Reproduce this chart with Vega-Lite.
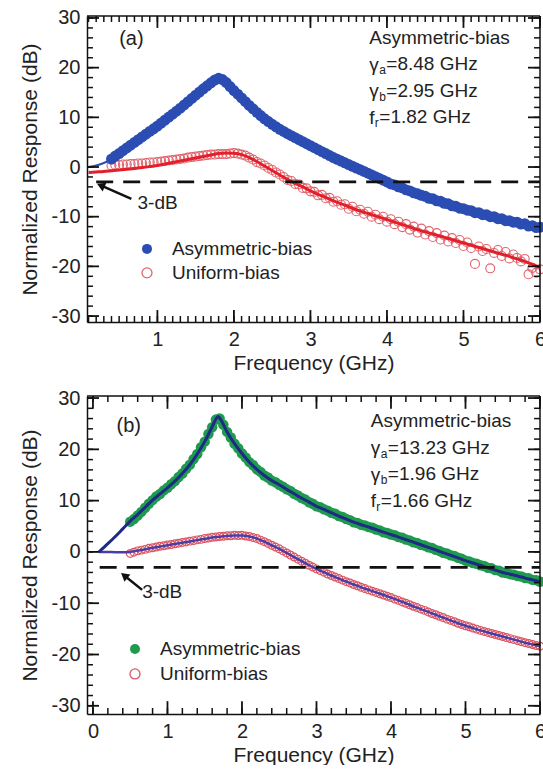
{
"$schema": "https://vega.github.io/schema/vega-lite/v6.json",
"padding": {"left": 19, "top": 7, "right": 0, "bottom": 0},
"spacing": 74,
"bounds": "flush",
"config": {
 "view": {"stroke": null},
 "font": "Liberation Sans",
 "axis": {"grid": false, "labelFontSize": 20, "titleFontSize": 21, "titleFontWeight": "normal", "labelColor": "#222", "titleColor": "#222"},
 "text": {"color": "#222"}
},
"datasets": {
"xa_minor": [
{"v":0.1},{"v":0.2},{"v":0.3},{"v":0.4},{"v":0.5},{"v":0.6},{"v":0.7},{"v":0.8},{"v":0.9},{"v":1.0},
{"v":1.1},{"v":1.2},{"v":1.3},{"v":1.4},{"v":1.5},{"v":1.6},{"v":1.7},{"v":1.8},{"v":1.9},{"v":2.0},
{"v":2.1},{"v":2.2},{"v":2.3},{"v":2.4},{"v":2.5},{"v":2.6},{"v":2.7},{"v":2.8},{"v":2.9},{"v":3.0},
{"v":3.1},{"v":3.2},{"v":3.3},{"v":3.4},{"v":3.5},{"v":3.6},{"v":3.7},{"v":3.8},{"v":3.9},{"v":4.0},
{"v":4.1},{"v":4.2},{"v":4.3},{"v":4.4},{"v":4.5},{"v":4.6},{"v":4.7},{"v":4.8},{"v":4.9},{"v":5.0},
{"v":5.1},{"v":5.2},{"v":5.3},{"v":5.4},{"v":5.5},{"v":5.6},{"v":5.7},{"v":5.8},{"v":5.9},{"v":6.0}
],
"xa_major": [{"v":1},{"v":2},{"v":3},{"v":4},{"v":5},{"v":6}],
"xb_minor": [
{"v":0.0},{"v":0.2},{"v":0.4},{"v":0.6},{"v":0.8},{"v":1.0},{"v":1.2},{"v":1.4},{"v":1.6},{"v":1.8},{"v":2.0},
{"v":2.2},{"v":2.4},{"v":2.6},{"v":2.8},{"v":3.0},{"v":3.2},{"v":3.4},{"v":3.6},{"v":3.8},{"v":4.0},
{"v":4.2},{"v":4.4},{"v":4.6},{"v":4.8},{"v":5.0},{"v":5.2},{"v":5.4},{"v":5.6},{"v":5.8},{"v":6.0}
],
"xb_major": [{"v":0},{"v":1},{"v":2},{"v":3},{"v":4},{"v":5},{"v":6}],
"y_minor": [
{"v":-30},{"v":-28},{"v":-26},{"v":-24},{"v":-22},{"v":-20},{"v":-18},{"v":-16},{"v":-14},{"v":-12},{"v":-10},
{"v":-8},{"v":-6},{"v":-4},{"v":-2},{"v":0},{"v":2},{"v":4},{"v":6},{"v":8},{"v":10},
{"v":12},{"v":14},{"v":16},{"v":18},{"v":20},{"v":22},{"v":24},{"v":26},{"v":28},{"v":30}
],
"y_major": [{"v":-30},{"v":-20},{"v":-10},{"v":0},{"v":10},{"v":20},{"v":30}],
"a": [
{"f":0.40,"A":1.6,"U":0.3},{"f":0.45,"A":2.2,"U":0.4},{"f":0.50,"A":2.7,"U":0.4},{"f":0.55,"A":3.3,"U":0.5},{"f":0.60,"A":3.85,"U":0.5},
{"f":0.65,"A":4.4,"U":0.6},{"f":0.70,"A":4.95,"U":0.6},{"f":0.75,"A":5.5,"U":0.7},{"f":0.80,"A":6.05,"U":0.7},{"f":0.85,"A":6.6,"U":0.8},
{"f":0.90,"A":7.15,"U":0.9},{"f":0.95,"A":7.7,"U":0.9},{"f":1.00,"A":8.25,"U":1.0},{"f":1.05,"A":8.85,"U":1.1},{"f":1.10,"A":9.45,"U":1.2},
{"f":1.15,"A":10.05,"U":1.3},{"f":1.20,"A":10.65,"U":1.4},{"f":1.25,"A":11.25,"U":1.5},{"f":1.30,"A":11.85,"U":1.6},{"f":1.35,"A":12.5,"U":1.7},
{"f":1.40,"A":13.15,"U":1.9},{"f":1.45,"A":13.8,"U":2.0},{"f":1.50,"A":14.45,"U":2.1},{"f":1.55,"A":15.1,"U":2.2},{"f":1.60,"A":15.75,"U":2.3},
{"f":1.65,"A":16.35,"U":2.4},{"f":1.70,"A":16.95,"U":2.5},{"f":1.75,"A":17.5,"U":2.5},{"f":1.80,"A":17.85,"U":2.6},{"f":1.85,"A":17.6,"U":2.6},
{"f":1.90,"A":17.0,"U":2.6},{"f":1.95,"A":16.2,"U":2.7},{"f":2.00,"A":15.4,"U":2.8},{"f":2.05,"A":14.65,"U":2.7},{"f":2.10,"A":13.9,"U":2.5},
{"f":2.15,"A":13.15,"U":2.3},{"f":2.20,"A":12.4,"U":1.9},{"f":2.25,"A":11.7,"U":1.5},{"f":2.30,"A":11.0,"U":1.0},{"f":2.35,"A":10.35,"U":0.7},
{"f":2.40,"A":9.7,"U":0.3},{"f":2.45,"A":9.15,"U":-0.2},{"f":2.50,"A":8.6,"U":-0.6},{"f":2.55,"A":8.1,"U":-1.1},{"f":2.60,"A":7.6,"U":-1.5},
{"f":2.65,"A":7.15,"U":-2.0},{"f":2.70,"A":6.7,"U":-2.6},{"f":2.75,"A":6.3,"U":-2.8},{"f":2.80,"A":5.9,"U":-3.4},{"f":2.85,"A":5.5,"U":-3.5},
{"f":2.90,"A":5.1,"U":-4.2},{"f":2.95,"A":4.7,"U":-4.3},{"f":3.00,"A":4.3,"U":-4.9},{"f":3.05,"A":3.9,"U":-5.0},{"f":3.10,"A":3.5,"U":-5.7},
{"f":3.15,"A":3.1,"U":-5.6},{"f":3.20,"A":2.7,"U":-6.3},{"f":3.25,"A":2.3,"U":-6.2},{"f":3.30,"A":1.9,"U":-7.0},{"f":3.35,"A":1.55,"U":-6.9},
{"f":3.40,"A":1.2,"U":-7.6},{"f":3.45,"A":0.85,"U":-7.5},{"f":3.50,"A":0.5,"U":-8.4},{"f":3.55,"A":0.15,"U":-8.0},{"f":3.60,"A":-0.2,"U":-8.9},
{"f":3.65,"A":-0.55,"U":-8.6},{"f":3.70,"A":-0.9,"U":-9.4},{"f":3.75,"A":-1.25,"U":-9.0},{"f":3.80,"A":-1.6,"U":-10.0},{"f":3.85,"A":-1.95,"U":-9.6},
{"f":3.90,"A":-2.3,"U":-10.5},{"f":3.95,"A":-2.65,"U":-10.0},{"f":4.00,"A":-3.0,"U":-11.0},{"f":4.05,"A":-3.4,"U":-10.5},{"f":4.10,"A":-3.6,"U":-11.5},
{"f":4.15,"A":-4.0,"U":-11.0},{"f":4.20,"A":-4.2,"U":-12.1},{"f":4.25,"A":-4.6,"U":-11.5},{"f":4.30,"A":-4.8,"U":-12.6},{"f":4.35,"A":-5.2,"U":-12.0},
{"f":4.40,"A":-5.4,"U":-13.2},{"f":4.45,"A":-5.7,"U":-12.4},{"f":4.50,"A":-5.9,"U":-13.6},{"f":4.55,"A":-6.3,"U":-12.9},{"f":4.60,"A":-6.4,"U":-14.1},
{"f":4.65,"A":-6.8,"U":-13.3},{"f":4.70,"A":-6.9,"U":-14.6},{"f":4.75,"A":-7.3,"U":-13.8},{"f":4.80,"A":-7.4,"U":-15.0},{"f":4.85,"A":-7.8,"U":-14.3},
{"f":4.90,"A":-7.9,"U":-15.3},{"f":4.95,"A":-8.3,"U":-14.7},{"f":5.00,"A":-8.4,"U":-15.9},{"f":5.05,"A":-8.7,"U":-15.2},{"f":5.10,"A":-8.8,"U":-16.3},
{"f":5.15,"A":-9.2,"U":-19.5},{"f":5.20,"A":-9.2,"U":-16.0},{"f":5.25,"A":-9.6,"U":-16.9},{"f":5.30,"A":-9.6,"U":-16.5},{"f":5.35,"A":-10.0,"U":-20.4},
{"f":5.40,"A":-10.0,"U":-17.3},{"f":5.45,"A":-10.4,"U":-16.7},{"f":5.50,"A":-10.4,"U":-17.9},{"f":5.55,"A":-10.8,"U":-17.1},{"f":5.60,"A":-10.8,"U":-18.4},
{"f":5.65,"A":-11.1,"U":-17.6},{"f":5.70,"A":-11.1,"U":-18.3},{"f":5.75,"A":-11.5,"U":-19.0},{"f":5.80,"A":-11.4,"U":-18.5},{"f":5.85,"A":-11.9,"U":-21.6},
{"f":5.90,"A":-11.8,"U":-20.3},{"f":5.95,"A":-12.2,"U":-21.3},{"f":6.00,"A":-12.1,"U":-20.6}
],
"afit": [
{"f":0.1,"A":0.0,"U":-1.1},{"f":0.2,"A":0.3,"U":-1.0},{"f":0.3,"A":0.8,"U":-0.9},{"f":0.4,"A":1.6,"U":-0.75},{"f":0.5,"A":2.7,"U":-0.6},
{"f":0.6,"A":3.85,"U":-0.45},{"f":0.7,"A":4.95,"U":-0.3},{"f":0.8,"A":6.05,"U":-0.1},{"f":0.9,"A":7.15,"U":0.1},{"f":1.0,"A":8.25,"U":0.3},
{"f":1.1,"A":9.45,"U":0.6},{"f":1.2,"A":10.65,"U":0.9},{"f":1.3,"A":11.85,"U":1.2},{"f":1.4,"A":13.15,"U":1.5},{"f":1.5,"A":14.45,"U":1.8},
{"f":1.6,"A":15.75,"U":2.1},{"f":1.7,"A":16.95,"U":2.4},{"f":1.8,"A":17.85,"U":2.7},{"f":1.9,"A":17.0,"U":2.8},{"f":2.0,"A":15.4,"U":2.75},
{"f":2.1,"A":13.9,"U":2.5},{"f":2.2,"A":12.4,"U":1.9},{"f":2.3,"A":11.0,"U":1.1},{"f":2.4,"A":9.7,"U":0.2},{"f":2.5,"A":8.6,"U":-0.7},
{"f":2.6,"A":7.6,"U":-1.6},{"f":2.7,"A":6.7,"U":-2.5},{"f":2.8,"A":5.9,"U":-3.3},{"f":2.9,"A":5.1,"U":-4.0},{"f":3.0,"A":4.3,"U":-4.8},
{"f":3.1,"A":3.5,"U":-5.5},{"f":3.2,"A":2.7,"U":-6.1},{"f":3.3,"A":1.9,"U":-6.8},{"f":3.4,"A":1.2,"U":-7.4},{"f":3.5,"A":0.5,"U":-8.0},
{"f":3.6,"A":-0.2,"U":-8.6},{"f":3.7,"A":-0.9,"U":-9.1},{"f":3.8,"A":-1.6,"U":-9.6},{"f":3.9,"A":-2.3,"U":-10.1},{"f":4.0,"A":-3.0,"U":-10.6},
{"f":4.1,"A":-3.6,"U":-11.1},{"f":4.2,"A":-4.2,"U":-11.6},{"f":4.3,"A":-4.8,"U":-12.1},{"f":4.4,"A":-5.4,"U":-12.6},{"f":4.5,"A":-5.9,"U":-13.05},
{"f":4.6,"A":-6.4,"U":-13.5},{"f":4.7,"A":-6.9,"U":-13.95},{"f":4.8,"A":-7.4,"U":-14.4},{"f":4.9,"A":-7.9,"U":-14.85},{"f":5.0,"A":-8.4,"U":-15.3},
{"f":5.1,"A":-8.8,"U":-15.75},{"f":5.2,"A":-9.2,"U":-16.2},{"f":5.3,"A":-9.6,"U":-16.65},{"f":5.4,"A":-10.0,"U":-17.1},{"f":5.5,"A":-10.4,"U":-17.55},
{"f":5.6,"A":-10.8,"U":-18.0},{"f":5.7,"A":-11.1,"U":-18.5},{"f":5.8,"A":-11.4,"U":-19.0},{"f":5.9,"A":-11.8,"U":-19.6},{"f":6.0,"A":-12.1,"U":-20.2}
],
"b": [
{"f":0.50,"G":5.9,"R":-0.3},{"f":0.55,"G":6.4,"R":-0.05},{"f":0.60,"G":7.1,"R":0.2},{"f":0.65,"G":7.8,"R":0.35},{"f":0.70,"G":8.6,"R":0.5},
{"f":0.75,"G":9.4,"R":0.7},{"f":0.80,"G":10.1,"R":0.8},{"f":0.85,"G":10.8,"R":0.95},{"f":0.90,"G":11.3,"R":1.1},{"f":0.95,"G":12.0,"R":1.2},
{"f":1.00,"G":12.5,"R":1.35},{"f":1.05,"G":13.2,"R":1.45},{"f":1.10,"G":13.8,"R":1.6},{"f":1.15,"G":14.6,"R":1.7},{"f":1.20,"G":15.3,"R":1.85},
{"f":1.25,"G":16.2,"R":1.95},{"f":1.30,"G":17.0,"R":2.1},{"f":1.35,"G":18.1,"R":2.2},{"f":1.40,"G":19.1,"R":2.35},{"f":1.45,"G":20.4,"R":2.45},
{"f":1.50,"G":21.5,"R":2.6},{"f":1.55,"G":23.0,"R":2.7},{"f":1.60,"G":24.3,"R":2.85},{"f":1.65,"G":25.8,"R":2.9},{"f":1.70,"G":26.0,"R":3.0},
{"f":1.75,"G":24.8,"R":3.05},{"f":1.80,"G":23.4,"R":3.15},{"f":1.85,"G":22.3,"R":3.15},{"f":1.90,"G":21.1,"R":3.25},{"f":1.95,"G":20.2,"R":3.2},
{"f":2.00,"G":19.2,"R":3.25},{"f":2.05,"G":18.4,"R":3.1},{"f":2.10,"G":17.5,"R":3.0},{"f":2.15,"G":16.9,"R":2.8},{"f":2.20,"G":16.1,"R":2.6},
{"f":2.25,"G":15.6,"R":2.3},{"f":2.30,"G":14.9,"R":2.0},{"f":2.35,"G":14.5,"R":1.65},{"f":2.40,"G":13.9,"R":1.3},{"f":2.45,"G":13.6,"R":0.95},
{"f":2.50,"G":13.1,"R":0.6},{"f":2.55,"G":12.7,"R":0.2},{"f":2.60,"G":12.2,"R":-0.2},{"f":2.65,"G":11.9,"R":-0.6},{"f":2.70,"G":11.35,"R":-1.0},
{"f":2.75,"G":11.0,"R":-1.4},{"f":2.80,"G":10.5,"R":-1.8},{"f":2.85,"G":10.2,"R":-2.2},{"f":2.90,"G":9.7,"R":-2.6},{"f":2.95,"G":9.4,"R":-2.95},
{"f":3.00,"G":8.9,"R":-3.3},{"f":3.05,"G":8.7,"R":-3.65},{"f":3.10,"G":8.3,"R":-3.95},{"f":3.15,"G":8.05,"R":-4.3},{"f":3.20,"G":7.65,"R":-4.6},
{"f":3.25,"G":7.45,"R":-4.9},{"f":3.30,"G":7.0,"R":-5.2},{"f":3.35,"G":6.8,"R":-5.5},{"f":3.40,"G":6.4,"R":-5.8},{"f":3.45,"G":6.2,"R":-6.05},
{"f":3.50,"G":5.8,"R":-6.35},{"f":3.55,"G":5.65,"R":-6.6},{"f":3.60,"G":5.3,"R":-6.9},{"f":3.65,"G":5.15,"R":-7.15},{"f":3.70,"G":4.85,"R":-7.4},
{"f":3.75,"G":4.7,"R":-7.65},{"f":3.80,"G":4.35,"R":-7.9},{"f":3.85,"G":4.2,"R":-8.15},{"f":3.90,"G":3.85,"R":-8.4},{"f":3.95,"G":3.7,"R":-8.65},
{"f":4.00,"G":3.4,"R":-8.9},{"f":4.05,"G":3.25,"R":-9.2},{"f":4.10,"G":2.9,"R":-9.45},{"f":4.15,"G":2.75,"R":-9.75},{"f":4.20,"G":2.4,"R":-10.0},
{"f":4.25,"G":2.25,"R":-10.3},{"f":4.30,"G":1.9,"R":-10.6},{"f":4.35,"G":1.75,"R":-10.85},{"f":4.40,"G":1.4,"R":-11.15},{"f":4.45,"G":1.25,"R":-11.4},
{"f":4.50,"G":0.9,"R":-11.7},{"f":4.55,"G":0.75,"R":-12.0},{"f":4.60,"G":0.4,"R":-12.25},{"f":4.65,"G":0.2,"R":-12.55},{"f":4.70,"G":-0.15,"R":-12.8},
{"f":4.75,"G":-0.3,"R":-13.1},{"f":4.80,"G":-0.65,"R":-13.35},{"f":4.85,"G":-0.8,"R":-13.6},{"f":4.90,"G":-1.15,"R":-13.9},{"f":4.95,"G":-1.35,"R":-14.15},
{"f":5.00,"G":-1.7,"R":-14.4},{"f":5.05,"G":-1.85,"R":-14.6},{"f":5.10,"G":-2.15,"R":-14.85},{"f":5.15,"G":-2.3,"R":-15.05},{"f":5.20,"G":-2.6,"R":-15.3},
{"f":5.25,"G":-2.75,"R":-15.5},{"f":5.30,"G":-3.1,"R":-15.7},{"f":5.35,"G":-3.2,"R":-15.9},{"f":5.40,"G":-3.55,"R":-16.1},{"f":5.45,"G":-3.65,"R":-16.3},
{"f":5.50,"G":-4.0,"R":-16.5},{"f":5.55,"G":-4.1,"R":-16.7},{"f":5.60,"G":-4.35,"R":-16.9},{"f":5.65,"G":-4.45,"R":-17.1},{"f":5.70,"G":-4.7,"R":-17.3},
{"f":5.75,"G":-4.8,"R":-17.5},{"f":5.80,"G":-5.1,"R":-17.7},{"f":5.85,"G":-5.15,"R":-17.85},{"f":5.90,"G":-5.45,"R":-18.05},{"f":5.95,"G":-5.5,"R":-18.25},
{"f":6.00,"G":-5.8,"R":-18.4}
],
"bfit": [
{"f":0.08,"G":0.0,"R":0.0},{"f":0.2,"G":1.6,"R":0.0},{"f":0.3,"G":3.0,"R":-0.05},{"f":0.4,"G":4.5,"R":-0.05},{"f":0.5,"G":6.0,"R":0.0},
{"f":0.6,"G":7.3,"R":0.25},{"f":0.7,"G":8.7,"R":0.5},{"f":0.8,"G":10.1,"R":0.8},{"f":0.9,"G":11.3,"R":1.05},{"f":1.0,"G":12.5,"R":1.3},
{"f":1.1,"G":13.8,"R":1.55},{"f":1.2,"G":15.3,"R":1.8},{"f":1.3,"G":17.0,"R":2.05},{"f":1.4,"G":19.1,"R":2.3},{"f":1.5,"G":21.5,"R":2.55},
{"f":1.6,"G":24.4,"R":2.8},{"f":1.65,"G":25.9,"R":2.9},{"f":1.68,"G":26.4,"R":2.95},{"f":1.7,"G":26.1,"R":2.97},{"f":1.8,"G":23.4,"R":3.1},
{"f":1.9,"G":21.1,"R":3.2},{"f":2.0,"G":19.2,"R":3.2},{"f":2.1,"G":17.5,"R":3.0},{"f":2.2,"G":16.1,"R":2.6},{"f":2.3,"G":14.9,"R":2.0},
{"f":2.4,"G":13.9,"R":1.3},{"f":2.5,"G":13.1,"R":0.6},{"f":2.6,"G":12.2,"R":-0.2},{"f":2.7,"G":11.35,"R":-1.0},{"f":2.8,"G":10.5,"R":-1.8},
{"f":2.9,"G":9.7,"R":-2.6},{"f":3.0,"G":8.9,"R":-3.3},{"f":3.1,"G":8.3,"R":-3.95},{"f":3.2,"G":7.65,"R":-4.6},{"f":3.3,"G":7.0,"R":-5.2},
{"f":3.4,"G":6.4,"R":-5.8},{"f":3.5,"G":5.8,"R":-6.35},{"f":3.6,"G":5.3,"R":-6.9},{"f":3.7,"G":4.85,"R":-7.4},{"f":3.8,"G":4.35,"R":-7.9},
{"f":3.9,"G":3.85,"R":-8.4},{"f":4.0,"G":3.4,"R":-8.9},{"f":4.1,"G":2.9,"R":-9.45},{"f":4.2,"G":2.4,"R":-10.0},{"f":4.3,"G":1.9,"R":-10.6},
{"f":4.4,"G":1.4,"R":-11.15},{"f":4.5,"G":0.9,"R":-11.7},{"f":4.6,"G":0.4,"R":-12.25},{"f":4.7,"G":-0.15,"R":-12.8},{"f":4.8,"G":-0.65,"R":-13.35},
{"f":4.9,"G":-1.15,"R":-13.9},{"f":5.0,"G":-1.7,"R":-14.4},{"f":5.1,"G":-2.15,"R":-14.85},{"f":5.2,"G":-2.6,"R":-15.3},{"f":5.3,"G":-3.1,"R":-15.7},
{"f":5.4,"G":-3.55,"R":-16.1},{"f":5.5,"G":-4.0,"R":-16.5},{"f":5.6,"G":-4.35,"R":-16.9},{"f":5.7,"G":-4.7,"R":-17.3},{"f":5.8,"G":-5.1,"R":-17.7},
{"f":5.9,"G":-5.45,"R":-18.05},{"f":6.0,"G":-5.8,"R":-18.4}
]
},
"vconcat": [
{
 "width": 453, "height": 306,
 "resolve": {"axis": {"x": "independent", "y": "independent"}},
 "layer": [
  {"data": {"name": "a"},
   "mark": {"type": "point", "shape": "circle", "filled": false, "size": 80, "strokeWidth": 1.1, "color": "#e0646e", "opacity": 1},
   "encoding": {
    "x": {"field": "f", "type": "quantitative", "scale": {"domain": [0.08, 6], "nice": false, "zero": false},
          "axis": {"orient": "bottom", "values": [1,2,3,4,5,6], "ticks": false, "domainColor": "#111", "domainWidth": 1.5, "labelPadding": 7, "labelFlush": false, "labelOverlap": false, "labelExpr": "'' + datum.value", "title": "Frequency (GHz)", "titlePadding": 3}},
    "y": {"field": "U", "type": "quantitative", "scale": {"domain": [-31.2, 30.4], "nice": false, "zero": false},
          "axis": {"orient": "left", "values": [-30,-20,-10,0,10,20,30], "ticks": false, "domainColor": "#111", "domainWidth": 1.5, "labelPadding": 7, "labelFlush": false, "labelOverlap": false, "labelExpr": "'' + datum.value", "title": "Normalized Response (dB)", "titlePadding": 11}}
   }},
  {"data": {"name": "afit"},
   "mark": {"type": "line", "color": "#e3202a", "strokeWidth": 3, "interpolate": "monotone"},
   "encoding": {"x": {"field": "f", "type": "quantitative", "axis": null}, "y": {"field": "U", "type": "quantitative", "axis": null}}},
  {"data": {"name": "a"},
   "mark": {"type": "point", "shape": "circle", "filled": true, "size": 120, "color": "#2b4db3", "opacity": 1},
   "encoding": {"x": {"field": "f", "type": "quantitative", "axis": null}, "y": {"field": "A", "type": "quantitative", "axis": null}}},
  {"data": {"name": "afit"},
   "mark": {"type": "line", "color": "#2b4db3", "strokeWidth": 2, "interpolate": "monotone"},
   "encoding": {"x": {"field": "f", "type": "quantitative", "axis": null}, "y": {"field": "A", "type": "quantitative", "axis": null}}},
  {"data": {"name": "xa_minor"},
   "mark": {"type": "rule", "color": "#111", "strokeWidth": 1.5},
   "encoding": {"x": {"field": "v", "type": "quantitative", "axis": null}, "y": {"datum": -31.2, "type": "quantitative", "axis": null}, "y2": {"datum": -30.0}}},
  {"data": {"name": "xa_minor"},
   "mark": {"type": "rule", "color": "#111", "strokeWidth": 1.5},
   "encoding": {"x": {"field": "v", "type": "quantitative", "axis": null}, "y": {"datum": 30.4, "type": "quantitative", "axis": null}, "y2": {"datum": 29.2}}},
  {"data": {"name": "xa_major"},
   "mark": {"type": "rule", "color": "#111", "strokeWidth": 1.8},
   "encoding": {"x": {"field": "v", "type": "quantitative", "axis": null}, "y": {"datum": -31.2, "type": "quantitative", "axis": null}, "y2": {"datum": -28.8}}},
  {"data": {"name": "xa_major"},
   "mark": {"type": "rule", "color": "#111", "strokeWidth": 1.8},
   "encoding": {"x": {"field": "v", "type": "quantitative", "axis": null}, "y": {"datum": 30.4, "type": "quantitative", "axis": null}, "y2": {"datum": 28.0}}},
  {"data": {"name": "y_minor"},
   "mark": {"type": "rule", "color": "#111", "strokeWidth": 1.5},
   "encoding": {"y": {"field": "v", "type": "quantitative", "axis": null}, "x": {"datum": 0.08, "type": "quantitative", "axis": null}, "x2": {"datum": 0.158}}},
  {"data": {"name": "y_minor"},
   "mark": {"type": "rule", "color": "#111", "strokeWidth": 1.5},
   "encoding": {"y": {"field": "v", "type": "quantitative", "axis": null}, "x": {"datum": 6.0, "type": "quantitative", "axis": null}, "x2": {"datum": 5.922}}},
  {"data": {"name": "y_major"},
   "mark": {"type": "rule", "color": "#111", "strokeWidth": 1.8},
   "encoding": {"y": {"field": "v", "type": "quantitative", "axis": null}, "x": {"datum": 0.08, "type": "quantitative", "axis": null}, "x2": {"datum": 0.237}}},
  {"data": {"name": "y_major"},
   "mark": {"type": "rule", "color": "#111", "strokeWidth": 1.8},
   "encoding": {"y": {"field": "v", "type": "quantitative", "axis": null}, "x": {"datum": 6.0, "type": "quantitative", "axis": null}, "x2": {"datum": 5.843}}},
  {"data": {"values": [{}]},
   "mark": {"type": "rule", "color": "#111", "strokeWidth": 1.5},
   "encoding": {"x": {"datum": 0.08, "type": "quantitative", "axis": null}, "x2": {"datum": 6.0}, "y": {"datum": 30.4, "type": "quantitative", "axis": null}}},
  {"data": {"values": [{}]},
   "mark": {"type": "rule", "color": "#111", "strokeWidth": 1.5},
   "encoding": {"x": {"datum": 6.0, "type": "quantitative", "axis": null}, "y": {"datum": -31.2, "type": "quantitative", "axis": null}, "y2": {"datum": 30.4}}},
  {"data": {"values": [{}]},
   "mark": {"type": "rule", "color": "#111", "strokeWidth": 2.8, "strokeDash": [17, 10]},
   "encoding": {"x": {"datum": 0.2, "type": "quantitative", "axis": null}, "x2": {"datum": 6}, "y": {"datum": -3, "type": "quantitative", "axis": null}}},
  {"data": {"values": [{}]},
   "mark": {"type": "rule", "color": "#111", "strokeWidth": 2.5},
   "encoding": {"x": {"datum": 0.66, "type": "quantitative", "axis": null}, "x2": {"datum": 0.26}, "y": {"datum": -6.4, "type": "quantitative", "axis": null}, "y2": {"datum": -3.7}}},
  {"data": {"values": [{}]},
   "mark": {"type": "point", "shape": "triangle-up", "filled": true, "size": 90, "angle": 293.6, "color": "#111", "opacity": 1},
   "encoding": {"x": {"datum": 0.26, "type": "quantitative", "axis": null}, "y": {"datum": -3.7, "type": "quantitative", "axis": null}}},
  {"data": {"values": [{}]},
   "mark": {"type": "point", "shape": "circle", "filled": true, "size": 100, "color": "#2b4db3", "opacity": 1},
   "encoding": {"x": {"datum": 0.864, "type": "quantitative", "axis": null}, "y": {"datum": -16.48, "type": "quantitative", "axis": null}}},
  {"data": {"values": [{}]},
   "mark": {"type": "point", "shape": "circle", "filled": false, "size": 100, "strokeWidth": 1.3, "color": "#e0646e", "opacity": 1},
   "encoding": {"x": {"datum": 0.864, "type": "quantitative", "axis": null}, "y": {"datum": -21.31, "type": "quantitative", "axis": null}}},
  {"data": {"values": [{}]},
   "mark": {"type": "text", "align": "left", "baseline": "middle", "fontSize": 19, "lineHeight": 24.0, "text": ["Asymmetric-bias", "Uniform-bias"]},
   "encoding": {"x": {"datum": 1.19, "type": "quantitative", "axis": null}, "y": {"datum": -16.48, "type": "quantitative", "axis": null}}},
  {"data": {"values": [{}]},
   "mark": {"type": "text", "align": "center", "baseline": "middle", "fontSize": 20, "text": "(a)"},
   "encoding": {"x": {"datum": 0.66, "type": "quantitative", "axis": null}, "y": {"datum": 25.7, "type": "quantitative", "axis": null}}},
  {"data": {"values": [{}]},
   "mark": {"type": "text", "align": "left", "baseline": "middle", "fontSize": 19, "text": "3-dB"},
   "encoding": {"x": {"datum": 0.74, "type": "quantitative", "axis": null}, "y": {"datum": -7.2, "type": "quantitative", "axis": null}}},
  {"data": {"values": [{}]},
   "mark": {"type": "text", "align": "left", "baseline": "middle", "fontSize": 19, "lineHeight": 26.5, "text": ["Asymmetric-bias", "γ", "γ", "f"]},
   "encoding": {"x": {"datum": 3.77, "type": "quantitative", "axis": null}, "y": {"datum": 25.97, "type": "quantitative", "axis": null}}},
  {"data": {"values": [{}]},
   "mark": {"type": "text", "align": "left", "baseline": "middle", "fontSize": 12, "lineHeight": 26.5, "dx": 10, "dy": 6, "text": ["a", "b"]},
   "encoding": {"x": {"datum": 3.77, "type": "quantitative", "axis": null}, "y": {"datum": 20.64, "type": "quantitative", "axis": null}}},
  {"data": {"values": [{}]},
   "mark": {"type": "text", "align": "left", "baseline": "middle", "fontSize": 19, "lineHeight": 26.5, "dx": 17, "text": ["=8.48 GHz", "=2.95 GHz"]},
   "encoding": {"x": {"datum": 3.77, "type": "quantitative", "axis": null}, "y": {"datum": 20.64, "type": "quantitative", "axis": null}}},
  {"data": {"values": [{}]},
   "mark": {"type": "text", "align": "left", "baseline": "middle", "fontSize": 12, "dx": 5.5, "dy": 6, "text": "r"},
   "encoding": {"x": {"datum": 3.77, "type": "quantitative", "axis": null}, "y": {"datum": 9.98, "type": "quantitative", "axis": null}}},
  {"data": {"values": [{}]},
   "mark": {"type": "text", "align": "left", "baseline": "middle", "fontSize": 19, "dx": 10, "text": "=1.82 GHz"},
   "encoding": {"x": {"datum": 3.77, "type": "quantitative", "axis": null}, "y": {"datum": 9.98, "type": "quantitative", "axis": null}}}
 ]
},
{
 "width": 453, "height": 318,
 "resolve": {"axis": {"x": "independent", "y": "independent"}},
 "layer": [
  {"data": {"name": "b"},
   "mark": {"type": "point", "shape": "circle", "filled": false, "size": 60, "strokeWidth": 1.2, "color": "#dc5662", "opacity": 1},
   "encoding": {
    "x": {"field": "f", "type": "quantitative", "scale": {"domain": [-0.08, 6], "nice": false, "zero": false},
          "axis": {"orient": "bottom", "values": [0,1,2,3,4,5,6], "ticks": false, "domainColor": "#111", "domainWidth": 1.5, "labelPadding": 7, "labelFlush": false, "labelOverlap": false, "labelExpr": "'' + datum.value", "title": "Frequency (GHz)", "titlePadding": 3}},
    "y": {"field": "R", "type": "quantitative", "scale": {"domain": [-31.6, 30.4], "nice": false, "zero": false},
          "axis": {"orient": "left", "values": [-30,-20,-10,0,10,20,30], "ticks": false, "domainColor": "#111", "domainWidth": 1.5, "labelPadding": 7, "labelFlush": false, "labelOverlap": false, "labelExpr": "'' + datum.value", "title": "Normalized Response (dB)", "titlePadding": 11}}
   }},
  {"data": {"name": "bfit"},
   "mark": {"type": "line", "color": "#4a3da6", "strokeWidth": 2.5, "interpolate": "monotone"},
   "encoding": {"x": {"field": "f", "type": "quantitative", "axis": null}, "y": {"field": "R", "type": "quantitative", "axis": null}}},
  {"data": {"name": "b"},
   "mark": {"type": "point", "shape": "circle", "filled": true, "size": 110, "color": "#1f9a4e", "opacity": 1},
   "encoding": {"x": {"field": "f", "type": "quantitative", "axis": null}, "y": {"field": "G", "type": "quantitative", "axis": null}}},
  {"data": {"name": "bfit"},
   "mark": {"type": "line", "color": "#1f2a86", "strokeWidth": 3, "interpolate": "monotone"},
   "encoding": {"x": {"field": "f", "type": "quantitative", "axis": null}, "y": {"field": "G", "type": "quantitative", "axis": null}}},
  {"data": {"name": "xb_minor"},
   "mark": {"type": "rule", "color": "#111", "strokeWidth": 1.5},
   "encoding": {"x": {"field": "v", "type": "quantitative", "axis": null}, "y": {"datum": -31.6, "type": "quantitative", "axis": null}, "y2": {"datum": -30.43}}},
  {"data": {"name": "xb_minor"},
   "mark": {"type": "rule", "color": "#111", "strokeWidth": 1.5},
   "encoding": {"x": {"field": "v", "type": "quantitative", "axis": null}, "y": {"datum": 30.4, "type": "quantitative", "axis": null}, "y2": {"datum": 29.23}}},
  {"data": {"name": "xb_major"},
   "mark": {"type": "rule", "color": "#111", "strokeWidth": 1.8},
   "encoding": {"x": {"field": "v", "type": "quantitative", "axis": null}, "y": {"datum": -31.6, "type": "quantitative", "axis": null}, "y2": {"datum": -29.1}}},
  {"data": {"name": "xb_major"},
   "mark": {"type": "rule", "color": "#111", "strokeWidth": 1.8},
   "encoding": {"x": {"field": "v", "type": "quantitative", "axis": null}, "y": {"datum": 30.4, "type": "quantitative", "axis": null}, "y2": {"datum": 27.9}}},
  {"data": {"name": "y_minor"},
   "mark": {"type": "rule", "color": "#111", "strokeWidth": 1.5},
   "encoding": {"y": {"field": "v", "type": "quantitative", "axis": null}, "x": {"datum": -0.08, "type": "quantitative", "axis": null}, "x2": {"datum": 0.0}}},
  {"data": {"name": "y_minor"},
   "mark": {"type": "rule", "color": "#111", "strokeWidth": 1.5},
   "encoding": {"y": {"field": "v", "type": "quantitative", "axis": null}, "x": {"datum": 6.0, "type": "quantitative", "axis": null}, "x2": {"datum": 5.92}}},
  {"data": {"name": "y_major"},
   "mark": {"type": "rule", "color": "#111", "strokeWidth": 1.8},
   "encoding": {"y": {"field": "v", "type": "quantitative", "axis": null}, "x": {"datum": -0.08, "type": "quantitative", "axis": null}, "x2": {"datum": 0.081}}},
  {"data": {"name": "y_major"},
   "mark": {"type": "rule", "color": "#111", "strokeWidth": 1.8},
   "encoding": {"y": {"field": "v", "type": "quantitative", "axis": null}, "x": {"datum": 6.0, "type": "quantitative", "axis": null}, "x2": {"datum": 5.839}}},
  {"data": {"values": [{}]},
   "mark": {"type": "rule", "color": "#111", "strokeWidth": 1.5},
   "encoding": {"x": {"datum": -0.08, "type": "quantitative", "axis": null}, "x2": {"datum": 6.0}, "y": {"datum": 30.4, "type": "quantitative", "axis": null}}},
  {"data": {"values": [{}]},
   "mark": {"type": "rule", "color": "#111", "strokeWidth": 1.5},
   "encoding": {"x": {"datum": 6.0, "type": "quantitative", "axis": null}, "y": {"datum": -31.6, "type": "quantitative", "axis": null}, "y2": {"datum": 30.4}}},
  {"data": {"values": [{}]},
   "mark": {"type": "rule", "color": "#111", "strokeWidth": 2.8, "strokeDash": [17, 10]},
   "encoding": {"x": {"datum": 0.09, "type": "quantitative", "axis": null}, "x2": {"datum": 6}, "y": {"datum": -3, "type": "quantitative", "axis": null}}},
  {"data": {"values": [{}]},
   "mark": {"type": "rule", "color": "#111", "strokeWidth": 2.5},
   "encoding": {"x": {"datum": 0.66, "type": "quantitative", "axis": null}, "x2": {"datum": 0.42}, "y": {"datum": -7.4, "type": "quantitative", "axis": null}, "y2": {"datum": -4.6}}},
  {"data": {"values": [{}]},
   "mark": {"type": "point", "shape": "triangle-up", "filled": true, "size": 90, "angle": 308.9, "color": "#111", "opacity": 1},
   "encoding": {"x": {"datum": 0.42, "type": "quantitative", "axis": null}, "y": {"datum": -4.6, "type": "quantitative", "axis": null}}},
  {"data": {"values": [{}]},
   "mark": {"type": "point", "shape": "circle", "filled": true, "size": 100, "color": "#1f9a4e", "opacity": 1},
   "encoding": {"x": {"datum": 0.564, "type": "quantitative", "axis": null}, "y": {"datum": -18.92, "type": "quantitative", "axis": null}}},
  {"data": {"values": [{}]},
   "mark": {"type": "point", "shape": "circle", "filled": false, "size": 100, "strokeWidth": 1.3, "color": "#dc5662", "opacity": 1},
   "encoding": {"x": {"datum": 0.564, "type": "quantitative", "axis": null}, "y": {"datum": -23.79, "type": "quantitative", "axis": null}}},
  {"data": {"values": [{}]},
   "mark": {"type": "text", "align": "left", "baseline": "middle", "fontSize": 19, "lineHeight": 25.0, "text": ["Asymmetric-bias", "Uniform-bias"]},
   "encoding": {"x": {"datum": 0.90, "type": "quantitative", "axis": null}, "y": {"datum": -18.92, "type": "quantitative", "axis": null}}},
  {"data": {"values": [{}]},
   "mark": {"type": "text", "align": "center", "baseline": "middle", "fontSize": 20, "text": "(b)"},
   "encoding": {"x": {"datum": 0.48, "type": "quantitative", "axis": null}, "y": {"datum": 24.5, "type": "quantitative", "axis": null}}},
  {"data": {"values": [{}]},
   "mark": {"type": "text", "align": "left", "baseline": "middle", "fontSize": 19, "text": "3-dB"},
   "encoding": {"x": {"datum": 0.66, "type": "quantitative", "axis": null}, "y": {"datum": -7.9, "type": "quantitative", "axis": null}}},
  {"data": {"values": [{}]},
   "mark": {"type": "text", "align": "left", "baseline": "middle", "fontSize": 19, "lineHeight": 26.7, "text": ["Asymmetric-bias", "γ", "γ", "f"]},
   "encoding": {"x": {"datum": 3.73, "type": "quantitative", "axis": null}, "y": {"datum": 25.5, "type": "quantitative", "axis": null}}},
  {"data": {"values": [{}]},
   "mark": {"type": "text", "align": "left", "baseline": "middle", "fontSize": 12, "lineHeight": 26.7, "dx": 10, "dy": 6, "text": ["a", "b"]},
   "encoding": {"x": {"datum": 3.73, "type": "quantitative", "axis": null}, "y": {"datum": 20.3, "type": "quantitative", "axis": null}}},
  {"data": {"values": [{}]},
   "mark": {"type": "text", "align": "left", "baseline": "middle", "fontSize": 19, "lineHeight": 26.7, "dx": 17, "text": ["=13.23 GHz", "=1.96 GHz"]},
   "encoding": {"x": {"datum": 3.73, "type": "quantitative", "axis": null}, "y": {"datum": 20.3, "type": "quantitative", "axis": null}}},
  {"data": {"values": [{}]},
   "mark": {"type": "text", "align": "left", "baseline": "middle", "fontSize": 12, "dx": 5.5, "dy": 6, "text": "r"},
   "encoding": {"x": {"datum": 3.73, "type": "quantitative", "axis": null}, "y": {"datum": 9.9, "type": "quantitative", "axis": null}}},
  {"data": {"values": [{}]},
   "mark": {"type": "text", "align": "left", "baseline": "middle", "fontSize": 19, "dx": 10, "text": "=1.66 GHz"},
   "encoding": {"x": {"datum": 3.73, "type": "quantitative", "axis": null}, "y": {"datum": 9.9, "type": "quantitative", "axis": null}}}
 ]
}
]
}
